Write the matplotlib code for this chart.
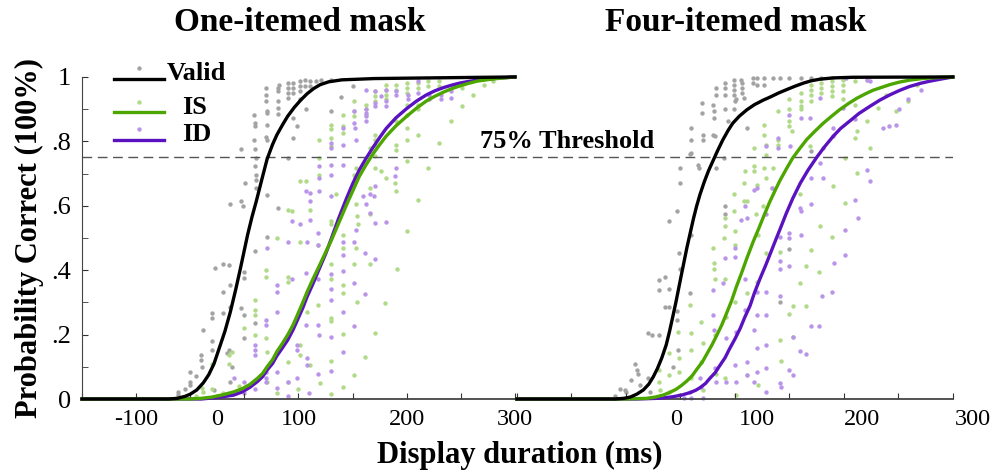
import numpy as np
import matplotlib
matplotlib.use("Agg")
import matplotlib.pyplot as plt
from matplotlib.ticker import MultipleLocator

plt.rcParams['font.family'] = ['Liberation Serif', 'DejaVu Serif']

# Curvas ajustadas: duracion (ms) -> prob. correcta
one_valid_x = [-100, -20, -12, -5, 0, 6, 12, 17, 22, 27, 32, 37, 42, 46, 53, 57, 61, 66, 71, 76, 80, 85,
               90, 96, 102, 108, 114, 120, 128, 140, 170, 220, 300]
one_valid_y = [0, 0, 0.002, 0.008, 0.015, 0.028, 0.05, 0.075, 0.11, 0.16, 0.21, 0.27, 0.34, 0.40, 0.51, 0.565,
               0.614, 0.68, 0.745, 0.79, 0.82, 0.85, 0.878, 0.905, 0.928, 0.948, 0.964, 0.976, 0.985, 0.991,
               0.995, 0.997, 1.0]
one_is_x = [-100, 0, 10, 20, 30, 40, 48, 55, 62, 67, 71, 76, 80, 85, 90, 95, 99, 104, 108, 113, 118, 125, 130,
            137, 144, 150, 156, 162, 169, 175, 181, 190, 200, 209, 218, 226, 234, 242, 249, 257, 265, 280, 300]
one_is_y = [0, 0, 0.002, 0.006, 0.013, 0.022, 0.032, 0.045, 0.064, 0.08, 0.10, 0.122, 0.147, 0.172, 0.199, 0.23,
            0.261, 0.30, 0.333, 0.37, 0.405, 0.455, 0.49, 0.545, 0.60, 0.645, 0.69, 0.725, 0.762, 0.79, 0.816,
            0.848, 0.878, 0.903, 0.925, 0.94, 0.953, 0.964, 0.972, 0.98, 0.987, 0.994, 1.0]
one_id_x = [-100, 10, 20, 30, 40, 48, 55, 62, 67, 71, 76, 80, 85, 90, 95, 99, 104, 108, 113, 118, 125, 130,
            137, 144, 150, 156, 162, 169, 175, 181, 190, 200, 209, 218, 226, 234, 242, 249, 257, 265, 280, 300]
one_id_y = [0, 0, 0.003, 0.007, 0.012, 0.022, 0.036, 0.054, 0.07, 0.09, 0.11, 0.134, 0.158, 0.183, 0.215, 0.245,
            0.283, 0.318, 0.355, 0.395, 0.45, 0.495, 0.56, 0.62, 0.668, 0.71, 0.745, 0.782, 0.812, 0.84, 0.873,
            0.902, 0.925, 0.944, 0.957, 0.967, 0.975, 0.981, 0.986, 0.99, 0.995, 1.0]

four_valid_x = [-100, -10, -2, 4, 10, 16, 21, 25, 29, 33, 37, 40, 43, 46, 50, 53, 56, 59, 62, 65, 68, 72, 76,
                80, 84, 89, 94, 98, 104, 111, 118, 126, 132, 140, 147, 155, 163, 170, 178, 190, 208, 300]
four_valid_y = [0, 0, 0.002, 0.006, 0.015, 0.028, 0.046, 0.068, 0.095, 0.128, 0.168, 0.209, 0.255, 0.302, 0.37,
                0.42, 0.47, 0.515, 0.56, 0.60, 0.635, 0.675, 0.71, 0.74, 0.77, 0.805, 0.835, 0.856, 0.878, 0.898,
                0.914, 0.928, 0.937, 0.95, 0.96, 0.971, 0.981, 0.988, 0.993, 0.997, 0.999, 1.0]
four_is_x = [-100, 0, 19, 27, 34, 40, 46, 51, 56, 61, 65, 70, 74, 79, 83, 88, 92, 97, 101, 106, 111, 117, 122,
             127, 132, 137, 141, 147, 153, 160, 166, 173, 181, 188, 196, 204, 212, 220, 227, 235, 242, 251, 260,
             272, 285, 300]
four_is_y = [0, 0, 0.002, 0.006, 0.012, 0.02, 0.03, 0.042, 0.056, 0.073, 0.092, 0.114, 0.138, 0.168, 0.195, 0.23,
             0.263, 0.305, 0.345, 0.39, 0.437, 0.49, 0.53, 0.572, 0.612, 0.648, 0.676, 0.713, 0.748, 0.78, 0.806,
             0.83, 0.856, 0.876, 0.898, 0.917, 0.934, 0.948, 0.959, 0.968, 0.976, 0.984, 0.99, 0.995, 0.998, 1.0]
four_id_x = [-100, 10, 28, 36, 43, 51, 59, 64, 68, 73, 77, 82, 86, 91, 95, 100, 105, 109, 114, 118, 123, 128,
             132, 137, 142, 147, 153, 160, 167, 175, 182, 190, 197, 205, 214, 224, 233, 242, 251, 260, 270, 279,
             290, 300]
four_id_y = [0, 0, 0.002, 0.004, 0.007, 0.012, 0.02, 0.027, 0.035, 0.048, 0.064, 0.082, 0.103, 0.128, 0.155,
             0.186, 0.22, 0.253, 0.29, 0.33, 0.373, 0.413, 0.447, 0.49, 0.532, 0.575, 0.622, 0.67, 0.71, 0.75,
             0.782, 0.815, 0.84, 0.862, 0.887, 0.909, 0.928, 0.944, 0.958, 0.97, 0.98, 0.987, 0.994, 1.0]

# Datos individuales (x = ms, y = prob.)
one_valid_pts = np.array([
    (-11, .023), (-11, .012), (0, .085), (0, .054), (0, .043), (10, .137), (10, .121), (11, .10), (12, .214),
    (20, .266), (20, .25), (20, .18), (20, .152), (22, .028), (23, .406), (30, .42), (30, .333), (30, .266),
    (34, .142), (36, .416), (36, .152), (37, .354), (37, .287), (37, .054), (39, .10), (47, .282), (50, .395),
    (50, .375), (50, .26), (50, .188), (60, .46), (60, .235), (71, .504), (37, .606), (47, .614), (49, .598),
    (51, .671), (60, .723), (61, .697), (61, .681), (61, .655), (71, .634), (47, .776), (60, .776), (61, .748),
    (59, .805), (70, .815), (71, .805), (60, .857), (60, .847), (71, .852), (71, .888), (71, .893), (81, .904),
    (81, .885), (81, .924), (81, .956), (81, .966), (82, .974), (90, .981), (90, .966), (90, .95), (90, .935),
    (95, .981), (95, .966), (95, .95), (95, .873), (95, .811), (101, .987), (101, .971), (101, .956), (101, .93),
    (106, .989), (106, .971), (111, .987), (111, .971), (116, .987), (107, .899), (99, .847), (90, .748),
    (81, .593), (70, .966), (70, .945), (70, .924), (59, .883), (130, .894), (150, .972), (139, .939),
    (130, .99), (121, .99), (-5, .03), (5, .07)])
one_is_pts = np.array([
    (130, .852), (130, .837), (130, .811), (130, .785), (130, .552), (130, .542), (141, .883), (141, .847),
    (141, .826), (151, .925), (151, .893), (151, .878), (153, .718), (151, .697), (153, .604), (154, .567),
    (162, .914), (162, .899), (162, .883), (171, .956), (171, .94), (171, .925), (171, .821), (171, .805),
    (171, .79), (166, .78), (171, .754), (171, .718), (176, .707), (181, .976), (181, .961), (181, .945),
    (181, .93), (190, .976), (190, .961), (190, .862), (190, .79), (190, .774), (200, .981), (200, .966),
    (200, .95), (200, .914), (200, .883), (200, .842), (200, .805), (200, .738), (200, .521), (210, .981),
    (210, .966), (210, .914), (210, .899), (210, .821), (210, .619), (220, .987), (220, .971), (220, .718),
    (230, .987), (230, .971), (230, .795), (241, .862), (243, .971), (251, .966), (251, .909), (261, .945),
    (271, .976), (280, .987), (190, .645), (189, .671), (181, .686), (166, .655), (135, .635), (141, .51),
    (155, .542), (166, .573), (130, .418), (130, .374), (141, .468), (141, .354), (141, .328), (130, .25),
    (130, .242), (151, .418), (153, .468), (154, .302), (141, .201), (166, .418), (191, .405), (180, .299),
    (171, .206), (130, .119), (161, .129), (151, .074), (141, .038), (130, .017), (11, .033), (12, .023),
    (20, .11), (36, .136), (36, .11), (39, .147), (50, .219), (60, .307), (60, .276), (60, .261), (60, .199),
    (70, .4), (70, .38), (70, .188), (71, .147), (71, .1), (71, .054), (80, .499), (90, .38), (90, .364),
    (90, .116), (90, .054), (101, .488), (101, .167), (101, .136), (108, .271), (111, .105), (118, .478),
    (118, .292), (119, .805), (119, .749), (119, .697), (101, .676), (107, .676), (111, .588), (90, .588),
    (94, .583), (5, .01), (20, .03), (30, .02), (45, .04), (80, .02), (100, .03), (120, .05)])
one_id_pts = np.array([
    (130, .795), (130, .78), (130, .728), (130, .697), (130, .63), (141, .842), (141, .79), (141, .728),
    (151, .893), (151, .857), (152, .842), (153, .805), (152, .686), (153, .526), (162, .899), (162, .888),
    (162, .878), (162, .862), (162, .961), (171, .956), (171, .919), (171, .909), (171, .661), (170, .63),
    (176, .94), (181, .961), (181, .925), (181, .909), (190, .956), (190, .945), (190, .718), (189, .692),
    (201, .945), (201, .93), (210, .987), (210, .95), (221, .945), (221, .93), (232, .945), (232, .93),
    (241, .935), (241, .956), (166, .635), (166, .578), (171, .547), (181, .55), (162, .604), (160, .63),
    (141, .488), (151, .488), (141, .447), (161, .452), (171, .434), (141, .397), (130, .387), (151, .361),
    (130, .341), (161, .325), (130, .307), (141, .271), (151, .226), (130, .193), (141, .145), (130, .087),
    (40, .064), (50, .054), (60, .167), (60, .152), (60, .136), (70, .245), (70, .23), (70, .085), (70, .064),
    (71, .468), (80, .354), (80, .333), (80, .271), (80, .033), (90, .488), (90, .054), (94, .374), (99, .167),
    (99, .152), (99, .064), (107, .39), (107, .23), (108, .126), (108, .105), (118, .478), (118, .374),
    (118, .23), (119, .199), (118, .079), (80, .085), (70, .054), (108, .488), (119, .723), (119, .686),
    (107, .645), (111, .64), (111, .614), (94, .552), (101, .542), (111, .557), (119, .645), (118, .516),
    (25, .01), (50, .02), (60, .03), (40, .02), (90, .01), (110, .02)])

four_valid_pts = np.array([
    (40, .552), (47, .585), (50, .718), (50, .671), (60, .842), (60, .805), (60, .764), (59, .761), (66, .728),
    (67, .718), (70, .919), (70, .888), (71, .821), (71, .805), (80, .914), (81, .893), (81, .873), (80, .821),
    (82, .816), (83, .945), (83, .966), (83, .718), (90, .749), (91, .899), (91, .966), (91, .981), (91, .945),
    (91, .598), (94, .862), (99, .992), (99, .976), (99, .961), (99, .945), (99, .899), (100, .925), (101, .93),
    (106, .992), (107, .981), (107, .966), (107, .95), (108, .935), (111, .842), (117, .997), (117, .981),
    (120, .997), (120, .976), (127, .997), (127, .976), (91, .573), (-1, .028), (0, .023), (10, .09),
    (11, .079), (13, .043), (20, .204), (24, .199), (22, .023), (30, .199), (30, .338), (30, .369), (36, .38),
    (40, .343), (36, .286), (40, .286), (43, .1), (47, .273), (47, .245), (49, .452), (50, .405), (20, .064),
    (48, .152), (59, .328), (60, .509), (-10, .01), (-5, .03), (5, .06), (8, .11), (141, .3), (150, .465),
    (170, .77), (135, .998), (141, .998), (150, .998), (161, .998), (170, .998), (179, .998), (189, .998)])
four_is_pts = np.array([
    (91, .562), (91, .536), (99, .635), (99, .583), (100, .521), (108, .671), (108, .614), (109, .707),
    (111, .614), (118, .78), (118, .723), (118, .707), (119, .573), (120, .666), (127, .852), (127, .821),
    (129, .79), (129, .759), (127, .718), (129, .686), (126, .598), (121, .51), (140, .893), (140, .805),
    (140, .79), (150, .93), (150, .899), (150, .862), (150, .847), (152, .831), (161, .95), (161, .925),
    (161, .909), (161, .899), (170, .976), (170, .961), (170, .945), (170, .925), (179, .981), (179, .966),
    (179, .95), (189, .987), (189, .971), (189, .956), (189, .94), (199, .992), (199, .976), (199, .956),
    (199, .93), (210, .987), (210, .914), (210, .811), (212, .831), (221, .992), (221, .862), (224, .78),
    (231, .904), (239, .945), (248, .893), (259, .925), (267, .976), (135, .718), (134, .655), (160, .635),
    (190, .661), (201, .609), (212, .702), (178, .536), (201, .749), (169, .785), (30, .09), (30, .054),
    (31, .028), (40, .142), (40, .074), (40, .023), (48, .209), (49, .126), (49, .085), (49, .012), (59, .292),
    (60, .204), (60, .152), (60, .064), (69, .24), (71, .173), (69, .116), (71, .028), (80, .468), (81, .421),
    (81, .405), (82, .374), (82, .199), (83, .079), (90, .499), (91, .374), (92, .255), (91, .064), (100, .478),
    (100, .302), (101, .012), (111, .328), (111, .074), (120, .364), (121, .043), (129, .452), (141, .455),
    (189, .504), (170, .464), (165, .413), (177, .395), (160, .361), (153, .29), (165, .289), (150, .263),
    (153, .193), (141, .183), (142, .118)])
four_id_pts = np.array([
    (129, .785), (120, .655), (118, .65), (109, .598), (106, .557), (111, .562), (129, .573), (140, .811),
    (140, .78), (150, .883), (151, .785), (161, .873), (169, .873), (178, .935), (181, .78), (190, .842),
    (190, .816), (199, .904), (202, .997), (210, .868), (221, .992), (224, .987), (236, .842), (241, .847),
    (248, .852), (251, .899), (259, .93), (271, .961), (134, .655), (170, .686), (170, .604), (178, .733),
    (181, .686), (210, .619), (221, .712), (224, .676), (213, .562), (160, .593), (161, .583), (150, .516),
    (161, .51), (201, .526), (59, .023), (60, .002), (68, .064), (69, .038), (71, .002), (80, .338), (80, .261),
    (81, .214), (82, .095), (83, .054), (89, .359), (91, .437), (92, .188), (92, .054), (100, .468), (100, .442),
    (101, .209), (100, .105), (101, .054), (109, .374), (109, .276), (111, .116), (111, .074), (120, .333),
    (120, .261), (118, .214), (120, .157), (120, .085), (118, .054), (129, .333), (129, .261), (129, .167),
    (129, .095), (129, .023), (53, .002), (141, .504), (150, .499), (201, .447), (191, .421), (141, .428),
    (141, .405), (150, .414), (141, .32), (180, .321), (189, .331), (170, .227), (177, .226), (153, .193),
    (160, .15), (165, .139), (150, .091), (153, .076), (141, .049), (142, .036)])

# Etiquetas del eje x tal como aparecen (posiciones en ms del eje)
one_tick_pos = [-50, 25, 100, 200, 300]
one_tick_lab = ['-100', '0', '100', '200', '300']
four_tick_pos = [46, 120, 217, 318]
four_tick_lab = ['0', '100', '200', '300']

conditions = ['Valid', 'IS', 'ID']
line_colors = ['black', '#4da600', '#5a12c0']
dot_colors = ['#a3a3a3', '#b0da88', '#b994e8']


def draw_panel(ax, pts, curves, tick_pos, tick_lab, title):
    for p, c in zip(pts, dot_colors):
        ax.scatter(p[:, 0], p[:, 1], s=10, color=c, linewidths=0, zorder=1, clip_on=False)
    for (x, y), c, z in zip(curves, line_colors, [5, 4, 3]):
        ax.plot(x, y, color=c, lw=2.4, zorder=z, clip_on=False, solid_joinstyle='round')
    ax.axhline(0.75, color='#555555', lw=1.0, dashes=(7, 4), zorder=2)
    ax.set_xlim(-100, 300)
    ax.set_ylim(0, 1)
    ax.xaxis.set_major_locator(MultipleLocator(50))
    ax.tick_params(axis='x', direction='in', length=4, labelbottom=False, color='#333333')
    for pos, lab in zip(tick_pos, tick_lab):
        ax.text(pos, -0.065, lab, transform=ax.get_xaxis_transform(), ha='center', va='center',
                fontsize=17.5, clip_on=False)
    ax.spines[['top', 'right']].set_visible(False)
    ax.spines['bottom'].set_color('#444444')
    ax.spines['bottom'].set_linewidth(1.3)
    ax.text(0.503, 1.17, title, transform=ax.transAxes, ha='center', va='center',
            fontsize=24, fontweight='bold')


fig = plt.figure(figsize=(9.94, 4.75), dpi=100)
ax1 = fig.add_axes([0.0825, 0.16, 0.4356, 0.678])
ax2 = fig.add_axes([0.520, 0.16, 0.4386, 0.678])

draw_panel(ax1, [one_valid_pts, one_is_pts, one_id_pts],
           [(one_valid_x, one_valid_y), (one_is_x, one_is_y), (one_id_x, one_id_y)],
           one_tick_pos, one_tick_lab, 'One-itemed mask')
draw_panel(ax2, [four_valid_pts, four_is_pts, four_id_pts],
           [(four_valid_x, four_valid_y), (four_is_x, four_is_y), (four_id_x, four_id_y)],
           four_tick_pos, four_tick_lab, 'Four-itemed mask')

# eje y solo en el panel izquierdo
ax1.set_yticks([0, .2, .4, .6, .8, 1])
ax1.set_yticklabels(['0', '.2', '.4', '.6', '.8', '1'], fontsize=19)
ax1.yaxis.set_minor_locator(MultipleLocator(0.1))
ax1.tick_params(axis='y', which='both', direction='in', length=4, pad=8, color='#333333')
ax1.spines['left'].set_color('#444444')
ax2.spines['left'].set_visible(False)
ax2.set_yticks([])

# leyenda dibujada a mano (linea + punto encima)
leg_y = [0.994, 0.891, 0.804]
dot_y = [1.028, 0.922, 0.839]
txt = [(0.196, 1.012), (0.231, 0.904), (0.231, 0.82)]
for i in range(3):
    ax1.plot([0.074, 0.19], [leg_y[i], leg_y[i]], color=line_colors[i], lw=2.4,
             transform=ax1.transAxes, clip_on=False, zorder=6)
    ax1.scatter([0.132], [dot_y[i]], s=10, color=dot_colors[i], linewidths=0,
                transform=ax1.transAxes, clip_on=False, zorder=6)
    ax1.text(txt[i][0], txt[i][1], conditions[i], transform=ax1.transAxes, ha='left', va='center',
             fontsize=19, fontweight='bold')

ax2.text(-54, 0.80, '75% Threshold', ha='center', va='center', fontsize=19, fontweight='bold',
         clip_on=False)

fig.text(0.030, 0.50, 'Probability Correct (100%)', rotation=90, ha='center', va='center',
         fontsize=22, fontweight='bold')
fig.text(0.523, 0.042, 'Display duration (ms)', ha='center', va='center',
         fontsize=22, fontweight='bold')

fig.savefig('out.png', dpi=100)
